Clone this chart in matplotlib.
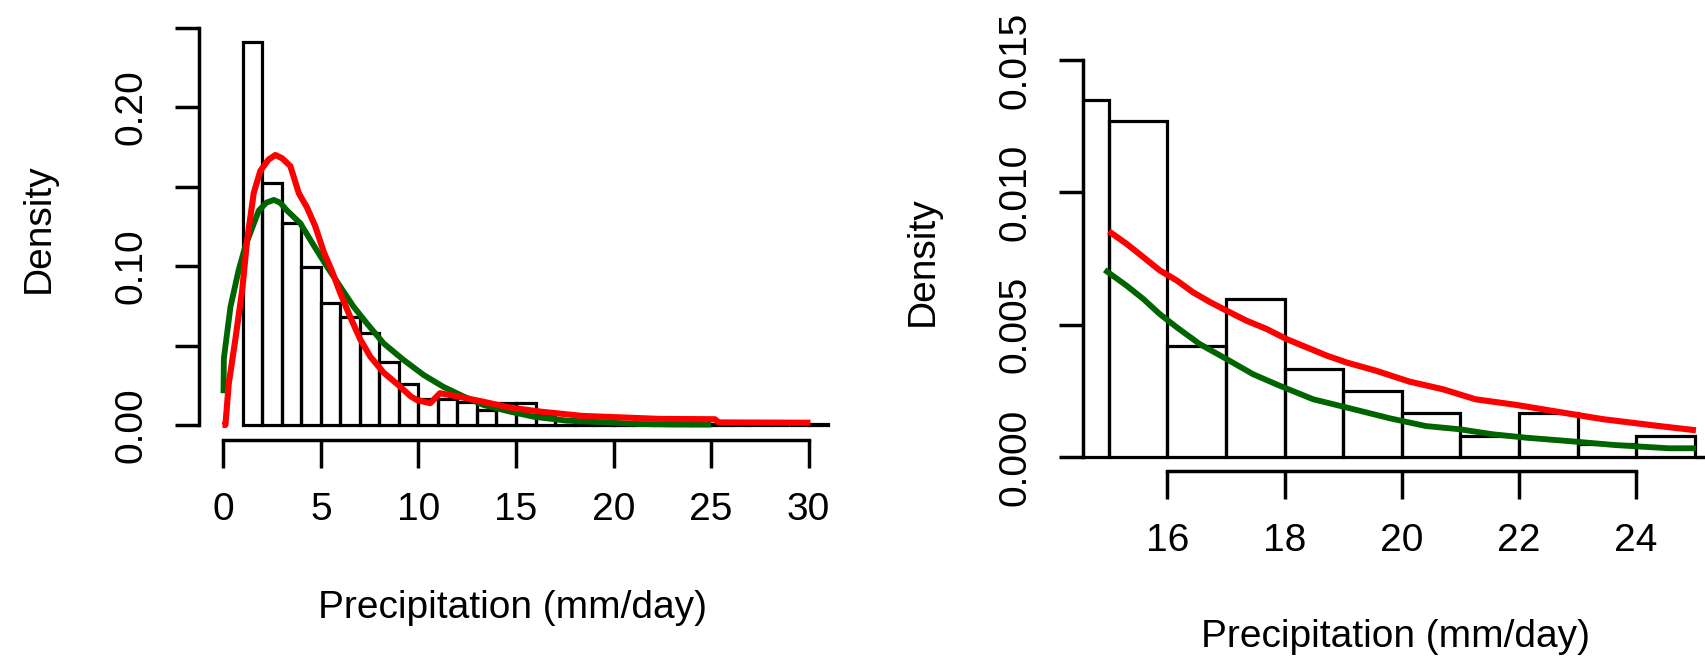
import numpy as np
import matplotlib
matplotlib.use("Agg")
import matplotlib.pyplot as plt

plt.rcParams['font.family'] = ['Liberation Sans', 'DejaVu Sans']

# left panel: all wet days, 1 mm bins from 1 to 31
left_edges = np.arange(1, 32)
left_density = [0.2414, 0.1526, 0.1274, 0.0997, 0.0766, 0.068, 0.058, 0.0395,
                0.0256, 0.0162, 0.0162, 0.0145, 0.0094, 0.0137, 0.0137, 0.0063,
                0.004, 0.003, 0.002, 0.0015, 0.001, 0.001, 0.0005, 0.0005,
                0.0005, 0.0, 0.0005, 0.0, 0.0, 0.0005]

left_green_x = [0.0, 0.02, 0.36, 0.78, 1.13, 1.47, 1.81, 2.2, 2.58, 2.9, 3.26, 3.94,
                4.63, 5.31, 5.99, 6.67, 7.35, 8.21, 9.23, 10.26, 11.28, 12.3, 13.33,
                14.7, 15.9, 17.6, 19.3, 21.3, 23.0, 25.0]
left_green_y = [0.02, 0.042, 0.0745, 0.0976, 0.113, 0.124, 0.135, 0.140, 0.1417, 0.140,
                0.135, 0.127, 0.113, 0.0997, 0.087, 0.0745, 0.064, 0.0514, 0.041,
                0.0315, 0.024, 0.018, 0.0126, 0.0084, 0.0052, 0.0027, 0.0018, 0.0006,
                0.0003, 0.0002]

left_red_x = [-0.05, 0.1, 0.27, 0.61, 0.96, 1.21, 1.55, 1.89, 2.3, 2.66, 3.0, 3.43, 3.86,
              4.28, 4.71, 5.14, 5.56, 5.99, 6.5, 7.01, 7.53, 8.21, 8.98, 9.6, 9.92, 10.6,
              11.1, 11.97, 13.3, 14.65, 16.25, 18.4, 22.4, 25.2, 25.4, 30.1]
left_red_y = [0.0, 0.0, 0.026, 0.054, 0.085, 0.116, 0.146, 0.160, 0.167, 0.170, 0.168,
              0.163, 0.146, 0.137, 0.125, 0.109, 0.097, 0.083, 0.068, 0.054, 0.043,
              0.033, 0.025, 0.018, 0.0157, 0.0137, 0.020, 0.018, 0.0147, 0.011, 0.0084,
              0.0057, 0.0038, 0.0036, 0.0016, 0.0014]

left_xticks = [0, 5, 10, 15, 20, 25, 30]
left_yticks = [0.0, 0.05, 0.10, 0.15, 0.20, 0.25]
left_ylabels = ['0.00', '', '0.10', '', '0.20', '']

# right panel: upper tail above 15 mm/day
right_edges = np.arange(14, 27)
right_density = [0.01348, 0.01269, 0.0042, 0.00597, 0.00332, 0.00248, 0.00165,
                 0.0008, 0.00165, 0.0005, 0.0008, 0.0]

right_green_x = [14.93, 15.3, 15.59, 15.87, 16.16, 16.55, 17.01, 17.46, 17.92, 18.49,
                 19.06, 19.8, 20.41, 20.98, 21.55, 22.12, 22.8, 23.65, 24.56, 25.02]
right_green_y = [0.00707, 0.00648, 0.00597, 0.0054, 0.0049, 0.00427, 0.0037, 0.00313,
                 0.00269, 0.00218, 0.00187, 0.00146, 0.00117, 0.00105, 0.00086, 0.00073,
                 0.00061, 0.00045, 0.00033, 0.00033]

right_red_x = [15.0, 15.3, 15.59, 15.87, 16.16, 16.44, 16.73, 17.01, 17.35, 17.69, 18.03,
               18.38, 18.72, 19.06, 19.56, 20.13, 20.7, 21.26, 21.95, 22.63, 23.43,
               24.39, 25.02]
right_red_y = [0.00853, 0.00806, 0.00755, 0.00705, 0.00667, 0.00622, 0.00585, 0.00553,
               0.00515, 0.00484, 0.00446, 0.00414, 0.00383, 0.00357, 0.00326, 0.00285,
               0.00256, 0.00218, 0.00197, 0.00172, 0.00143, 0.00117, 0.00101]

right_xticks = [16, 18, 20, 22, 24]
right_yticks = [0.0, 0.005, 0.010, 0.015]
right_ylabels = ['0.000', '0.005', '0.010', '0.015']

W, H = 1706, 664
FS = 28


def px_axes(fig, left, top, right, bottom):
    return fig.add_axes([left / W, 1 - bottom / H, (right - left) / W, (bottom - top) / H])


def draw_panel(ax, edges, dens, gx, gy, rx, ry, xticks, yticks, ylabels):
    ax.bar(edges[:-1], dens, width=np.diff(edges), align='edge', fill=False,
           edgecolor='black', linewidth=2.3)
    ax.plot(gx, gy, color='#006400', lw=4.2, solid_capstyle='butt')
    ax.plot(rx, ry, color='#ff0000', lw=4.4, solid_capstyle='butt')

    for s in ['top', 'right']:
        ax.spines[s].set_visible(False)
    for s in ['left', 'bottom']:
        ax.spines[s].set_linewidth(2.5)
    ax.spines['left'].set_bounds(yticks[0], yticks[-1])
    ax.spines['bottom'].set_bounds(xticks[0], xticks[-1])

    ax.set_xticks(xticks)
    ax.set_xticklabels([str(t) for t in xticks])
    ax.set_yticks(yticks)
    ax.set_yticklabels(ylabels)
    ax.tick_params(axis='x', direction='out', length=20, width=2.5, pad=17, labelsize=FS)
    ax.tick_params(axis='y', direction='out', length=17.5, width=2.5, pad=18,
                   labelsize=FS, labelrotation=90)
    for lbl in ax.get_yticklabels():
        lbl.set_va('center')


fig = plt.figure(figsize=(W / 100, H / 100), dpi=100)

ax1 = px_axes(fig, 199.3, 26.2, 852.2, 440.3)
ax1.set_xlim(-1.24, 32.24)
ax1.set_ylim(-0.00966, 0.2511)
draw_panel(ax1, left_edges, left_density, left_green_x, left_green_y,
           left_red_x, left_red_y, left_xticks, left_yticks, left_ylabels)

ax2 = px_axes(fig, 1083, 44.1, 1718.2, 471.3)
ax2.set_xlim(14.56, 25.4)
ax2.set_ylim(-0.00054, 0.0156)
draw_panel(ax2, right_edges, right_density, right_green_x, right_green_y,
           right_red_x, right_red_y, right_xticks, right_yticks, right_ylabels)

fig.text(513 / W, 1 - 618 / H, 'Precipitation (mm/day)', ha='center', va='baseline', fontsize=FS)
fig.text(1396 / W, 1 - 647 / H, 'Precipitation (mm/day)', ha='center', va='baseline', fontsize=FS)
fig.text(39 / W, 1 - 228 / H, 'Density', rotation=90, ha='center', va='center', fontsize=FS)
fig.text(923 / W, 1 - 261 / H, 'Density', rotation=90, ha='center', va='center', fontsize=FS)

fig.savefig('out.png', dpi=100)
